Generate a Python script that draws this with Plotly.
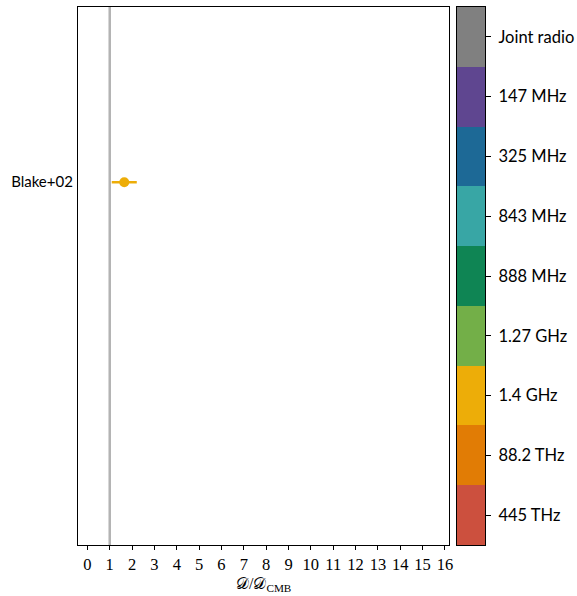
import plotly.graph_objects as go

# Data
studies = ["Blake+02"]
dipole_ratio = [1.65]
dipole_err = [0.56]
study_band = ["1.4 GHz"]
reference_value = [1.0]

bands = ["445 THz", "88.2 THz", "1.4 GHz", "1.27 GHz", "888 MHz",
         "843 MHz", "325 MHz", "147 MHz", "Joint radio"]
band_colors = ["#CC503E", "#E17C05", "#EDAD08", "#73AF48", "#0F8554",
               "#38A6A5", "#1D6996", "#5F4690", "#808080"]
x_ticks = list(range(0, 17))

color_of = dict(zip(bands, band_colors))
n = len(bands)
cscale = []
for i, c in enumerate(band_colors):
    cscale.append([i / n, c])
    cscale.append([(i + 1) / n, c])

fig = go.Figure()

fig.add_trace(go.Scatter(
    x=dipole_ratio, y=studies, mode="markers",
    marker=dict(color=[color_of[b] for b in study_band], size=10),
    error_x=dict(type="data", array=dipole_err, color=color_of[study_band[0]],
                 thickness=2.5, width=0),
    showlegend=False, xaxis="x", yaxis="y", cliponaxis=False,
))

fig.add_trace(go.Heatmap(
    z=[[i] for i in range(n)], x=[0], y=bands,
    colorscale=cscale, zmin=-0.5, zmax=n - 0.5, showscale=False,
    xaxis="x2", yaxis="y2", hoverinfo="skip",
))

for v in reference_value:
    fig.add_shape(type="line", x0=v, x1=v, y0=0, y1=1, xref="x", yref="paper",
                  line=dict(color="#b3b3b3", width=2.5), layer="below")

sans = "Lato, 'DejaVu Sans', sans-serif"
serif = "'Liberation Serif', 'DejaVu Serif', serif"

fig.add_annotation(
    text="𝒟/𝒟<sub>CMB</sub>", xref="x domain", yref="paper",
    x=0.5, y=0, yshift=-28, xanchor="center", yanchor="top", showarrow=False,
    font=dict(family=serif, size=16, color="black"),
)

fig.update_layout(
    width=577, height=596,
    margin=dict(l=78, r=92, t=7, b=51, autoexpand=False),
    plot_bgcolor="white", paper_bgcolor="white",
    xaxis=dict(
        domain=[0, 0.9115], range=[-0.42, 16.18], automargin=False,
        tickmode="array", tickvals=x_ticks, ticktext=[str(t) for t in x_ticks],
        ticks="outside", ticklen=4, tickwidth=1, tickcolor="black",
        showgrid=False, zeroline=False,
        showline=True, linecolor="black", linewidth=1.2, mirror=True,
        tickfont=dict(family=serif, size=16.5, color="black"),
    ),
    yaxis=dict(
        range=[-2.07, 1.0], type="category", automargin=False,
        ticks="", showgrid=False, zeroline=False,
        showline=True, linecolor="black", linewidth=1.2, mirror=True,
        tickfont=dict(family=sans, size=15, color="black"),
        ticklabelstandoff=1,
    ),
    xaxis2=dict(
        domain=[0.9312, 1.0], anchor="y2", showticklabels=False, ticks="",
        showgrid=False, zeroline=False, automargin=False,
        showline=True, linecolor="black", linewidth=1.2, mirror=True,
    ),
    yaxis2=dict(
        anchor="x2", side="right", type="category", automargin=False,
        ticks="outside", ticklen=5, tickwidth=1, tickcolor="black",
        showgrid=False, zeroline=False,
        showline=True, linecolor="black", linewidth=1.2, mirror=True,
        tickfont=dict(family=sans, size=16.5, color="black"),
        ticklabelstandoff=4,
    ),
)

fig.write_html("out.html", config={"displayModeBar": False},
               post_script="document.body.style.margin='0';")
